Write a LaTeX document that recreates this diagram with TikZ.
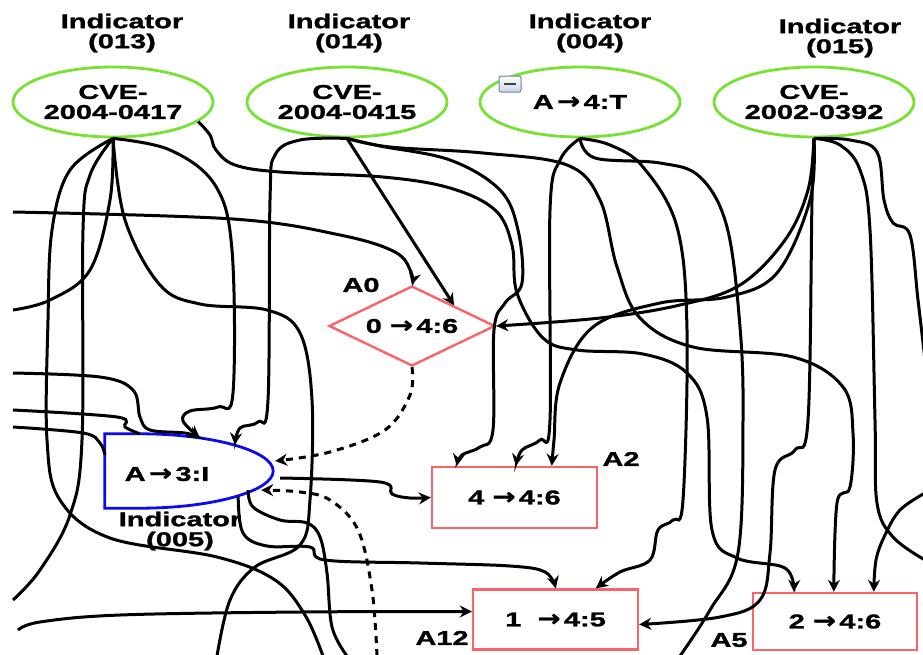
\documentclass[tikz,border=0pt]{standalone}
\usepackage{fontspec}
\setmainfont{Liberation Sans}[FakeStretch=1.45, BoldFeatures={FakeBold=1.3}]
\newfontfamily\arrowfont{DejaVu Sans}[FakeStretch=1.2, BoldFeatures={FakeBold=1.3}]
\usetikzlibrary{shapes.geometric,arrows.meta}
\newcommand\toarr{{\arrowfont\bfseries\fontsize{23}{20}\selectfont\char"2192}}
\definecolor{indgreen}{RGB}{120,226,52}
\definecolor{actred}{RGB}{250,100,105}
\definecolor{gateblue}{RGB}{10,10,245}
\definecolor{togedge}{RGB}{110,130,165}
\definecolor{togfill}{RGB}{200,212,230}

\begin{document}
\begin{tikzpicture}[x=1pt,y=-1pt,
  every node/.style={font=\bfseries\fontsize{20}{20}\selectfont, align=center, inner sep=0pt},
  cve/.style={ellipse, draw=indgreen, line width=2.8pt, fill=white, minimum width=200pt, minimum height=70pt},
  actbox/.style={rectangle, draw=actred, line width=2.4pt, fill=white},
  conn/.style={line width=3pt, black, -{Stealth[length=12pt,width=12pt]}},
  wire/.style={line width=3pt, black},
  dashconn/.style={line width=3pt, black, dash pattern=on 7pt off 6pt, -{Stealth[length=12pt,width=12pt]}},
  sm/.style={smooth, tension=0.6}
]
\fill[white] (0,0) rectangle (923,654);
\useasboundingbox (0,0) rectangle (923,654);

% indicator ellipses and their titles
\node[cve] (e1) at (113,102) {CVE-\\2004-0417};
\node[cve] (e2) at (347,102) {CVE-\\2004-0415};
\node[cve] (e3) at (580,102) {A\,\toarr\,4:T};
\node[cve] (e4) at (814,102) {CVE-\\2002-0392};
\node (t1) at (122,33) {Indicator\\(013)};
\node (t2) at (349,33) {Indicator\\(014)};
\node (t3) at (590,33) {Indicator\\(004)};
\node (t4) at (840,38) {Indicator\\(015)};

% collapse toggle
\node[draw=togedge, line width=1pt, rounded corners=2pt, top color=white, bottom color=togfill,
      minimum width=22pt, minimum height=16pt] (tog) at (510,84) {};
\draw[line width=2.6pt, black!75] ([xshift=-6pt]tog.center) -- ([xshift=6pt]tog.center);

% action nodes
\node[diamond, draw=actred, line width=2.4pt, fill=white, aspect=2, minimum width=166pt, minimum height=80pt] (a0) at (412,326) {0 \toarr\,4:6};
\node[actbox, minimum width=165pt, minimum height=61pt] (a2) at (514.5,497.5) {4 \toarr\,4:6};
\node[actbox, minimum width=165pt, minimum height=60pt] (a12) at (555.5,619.5) {1\ \ \toarr\,4:5};
\node[actbox, minimum width=164pt, minimum height=57pt] (a5) at (835,621.5) {2 \toarr\,4:6};
\node (la0) at (361,285) {A0};
\node (la2) at (621,459) {A2};
\node (la12) at (442,638) {A12};
\node (la5) at (729,640) {A5};

% indicator gate (005)
\node[minimum width=168pt, minimum height=74pt] (ind5) at (189,471) {};
\draw[gateblue, line width=2.8pt, fill=white]
  (ind5.north west) -- ([xshift=35pt]ind5.north west)
  .. controls ([xshift=108pt]ind5.north west) and ([yshift=20pt]ind5.east) .. (ind5.east)
  .. controls ([yshift=-20pt]ind5.east) and ([xshift=108pt]ind5.south west) .. ([xshift=35pt]ind5.south west)
  -- (ind5.south west) -- cycle;
\node (ind5t) at (167,474) {A\,\toarr\,3:I};
\node (t5) at (180,531) {Indicator\\(005)};

% free ends at the picture border
\coordinate (w1) at (13,212);
\coordinate (w2) at (13,373);
\coordinate (w3) at (13,410);
\coordinate (w4) at (13,427);
\coordinate (w5) at (18,630);
\coordinate (w6) at (13,310);
\coordinate (w7) at (13,600);
\coordinate (s1) at (323,656);
\coordinate (s2) at (217,656);
\coordinate (s3) at (347,656);
\coordinate (s4) at (377,656);
\coordinate (s5) at (680,656);
\coordinate (r1) at (925,560);
\coordinate (r2) at (925,360);
\coordinate (r3) at (925,493);

% edges from CVE-2004-0417
\draw[wire] plot[sm] coordinates {(e1.south) (70,170) (52,230) (48,320) (47,440) (60,500) (110,538) (217,557) (275,580) (305,615) (s1)};
\draw[wire] plot[sm] coordinates {(e1.south) (90,175) (83,230) (82,440) (70,515) (40,570) (w7)};
\draw[wire] plot[sm] coordinates {(e1.south) (110,200) (90,270) (50,300) (w6)};
\draw[wire] plot[sm] coordinates {(e1.south) (125,220) (160,285) (200,304) (267,310) (300,333) (312,400) (310,500) (300,545) (255,567) (230,600) (s2)};
\draw[conn] plot[sm] coordinates {(e1.south) (170,150) (215,185) (232,250) (233,393) (218,407) (190,411) (183,421) ([xshift=95pt,yshift=-4pt]ind5.north west)};
\draw[conn] plot[sm] coordinates {(e1.-13) (210,135) (216,150) (235,165) (280,172) (383,177) (450,188) (495,210) (512,245) (517,293) (543,338) (577,350) (643,354) (687,373) (707,417) (712,530) (737,558) (785,568) ([xshift=42pt]a5.north west)};

% edges from CVE-2004-0415
\draw[conn] plot[sm] coordinates {(e2.south) (300,140) (275,155) (270,200) (268,400) (258,422) (240,428) ([xshift=130pt,yshift=-11pt]ind5.north west)};
\draw[conn] (e2.south) -- (a0.north east);
\draw[conn] plot[sm] coordinates {(e2.south) (380,146) (450,160) (500,190) (518,230) (522,283) (505,303) (494,330) (493,430) (480,447) (462,455) ([xshift=26pt]a2.north west)};
\draw[conn] plot[sm] coordinates {(e2.south) (390,147) (483,153) (567,165) (600,200) (617,267) (640,318) (693,347) (793,357) (843,387) (853,433) (850,487) (837,503) ([xshift=82pt]a5.north west)};

% edges from A -> 4:T
\draw[conn] plot[sm] coordinates {(e3.south) (560,160) (550,210) (550,420) (540,440) (522,450) ([xshift=85pt]a2.north west)};
\draw[conn] plot[sm] coordinates {(e3.south) (610,145) (643,167) (677,227) (687,330) (683,500) (673,520) (658,530) (650,560) (620,572) ([xshift=124pt]a12.north west)};
\draw[wire] plot[sm] coordinates {(e3.south) (595,158) (660,163) (700,177) (727,227) (740,327) (743,420) (738,553) (710,610) (s5)};

% edges from CVE-2002-0392
\draw[conn] plot[sm] coordinates {(e4.south) (808,190) (785,240) (740,285) (680,305) (600,318) (a0.east)};
\draw[conn] plot[sm] coordinates {(e4.south) (810,200) (777,273) (727,297) (660,303) (593,327) (560,383) (554,440) ([xshift=121pt]a2.north west)};
\draw[conn] plot[sm] coordinates {(e4.south) (812,200) (808,420) (795,450) (775,470) (770,553) (760,600) (720,617) ([yshift=-5pt]a12.east)};
\draw[wire] plot[sm] coordinates {(e4.south) (840,145) (860,170) (870,230) (875,420) (877,503) (893,537) (r1)};
\draw[wire] plot[sm] coordinates {(e4.south) (850,140) (877,152) (884,200) (893,223) (910,235) (918,300) (r2)};
\draw[conn] plot[sm] coordinates {(r3) (900,510) (885,535) (876,560) ([xshift=122pt]a5.north west)};

% edges entering from the left
\draw[conn] plot[sm] coordinates {(w1) (233,219) (340,235) (395,252) (411,272) (a0.north)};
\draw[conn] plot[sm] coordinates {(w2) (100,377) (133,390) (140,417) (150,430) (185,433) ([xshift=95pt,yshift=-4pt]ind5.north west)};
\draw[wire] plot[sm] coordinates {(w3) (117,417) (125,427) ([xshift=35pt]ind5.north west)};
\draw[wire] plot[sm] coordinates {(w4) (83,433) (100,443) ([yshift=-21pt]ind5.north west)};
\draw[conn] plot[sm] coordinates {(w5) (40,622) (120,615) (300,612) ([yshift=8pt]a12.west)};

% edges leaving the gate
\draw[conn] plot[sm] coordinates {([xshift=7pt,yshift=-7pt]ind5.east) (380,482) (392,494) (410,498) (a2.west)};
\draw[conn] plot[sm] coordinates {([xshift=-35pt,yshift=-26pt]ind5.east) (243,533) (267,546) (310,547) (325,560) (420,563) (510,566) (545,572) ([xshift=84pt]a12.north west)};
\draw[wire] plot[sm] coordinates {([xshift=-25pt,yshift=-19pt]ind5.east) (253,507) (280,520) (307,523) (320,537) (327,573) (332,627) (s3)};

% dashed feedback into the gate
\draw[dashconn] plot[sm] coordinates {(a0.south) (410,395) (385,430) (330,452) ([xshift=2pt,yshift=10pt]ind5.east)};
\draw[dashconn] plot[sm] coordinates {(s4) (372,590) (358,530) (330,500) (300,492) ([xshift=-12pt,yshift=-19pt]ind5.east)};
\end{tikzpicture}
\end{document}
